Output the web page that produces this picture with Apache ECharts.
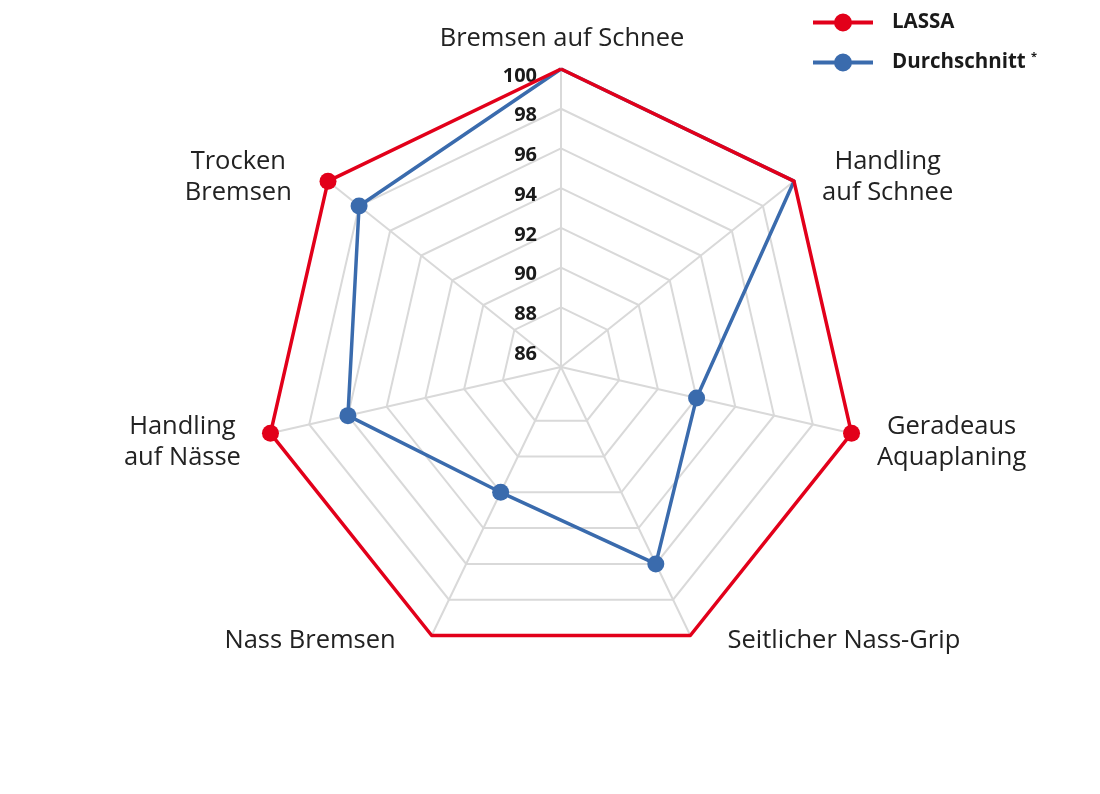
<!DOCTYPE html>
<html>
<head>
    <meta charset="utf-8">
    <title>LASSA Radar</title>
    <style>
        body { margin: 0; background: #fff; }
        #main { width: 1100px; height: 794px; }
    </style>
</head>
<body>
    <div id="main"></div>
    <script src="https://cdn.jsdelivr.net/npm/echarts@6.0.0/dist/echarts.min.js"></script>
    <script type="text/javascript">

        // order follows echarts radar (counter-clockwise from top)
        const INDICATOR_NAMES = [
            'Bremsen auf Schnee', 'Trocken\nBremsen', 'Handling\nauf Nässe', 'Nass Bremsen',
            'Seitlicher Nass-Grip', 'Geradeaus\nAquaplaning', 'Handling\nauf Schnee'
        ];
        const SERIES_NAMES = ['LASSA', 'Durchschnitt'];
        const FOOTNOTE = '*';
        const LASSA = [100, 100, 100, 100, 100, 100, 100];
        const DURCHSCHNITT = [100, 98, 96, 92, 96, 92, 100];
        // which vertices carry a dot
        const LASSA_MARKERS = [false, true, true, false, false, true, false];
        const DURCHSCHNITT_MARKERS = [false, true, true, true, true, true, false];
        const AXIS_MIN = 85;
        const AXIS_MAX = 100;
        const TICK_LABELS = ['86', '88', '90', '92', '94', '96', '98', '100'];
        const RING_VALUES = [88, 90, 92, 94, 96, 98, 100];

        const RED = '#e2001a';
        const BLUE = '#3a6bad';
        const GRID = '#d9d9d9';
        const FONT = 'Open Sans';

        // name placement: [gap along the axis, extra horizontal shift] in px
        const NAME_LAYOUT = [[30, 1], [6, -85], [38, -51], [6, -119], [6, 151], [38, 63], [6, 89]];

        function xPadding(dx) {
            return [0, Math.max(0, -2 * dx), 0, Math.max(0, 2 * dx)];
        }

        const ringColors = [];
        for (let v = AXIS_MIN; v <= AXIS_MAX; v++) {
            ringColors.push(RING_VALUES.includes(v) ? GRID : 'rgba(0,0,0,0)');
        }

        function markerData(values, markers) {
            let out = [];
            for (let i = 0; i < values.length; i++) {
                if (markers[i]) {
                    out.push([values[i], i]);
                }
            }
            return out;
        }

        const ICON = 'path://M0,7H60V11H0Z M39,9A9,9 0 1 1 21,9A9,9 0 1 1 39,9Z';

        let myChart = echarts.init(document.getElementById('main'));

        const option = {
            backgroundColor: '#fff',
            color: [RED, BLUE],
            legend: {
                orient: 'vertical',
                left: 813,
                top: 12,
                padding: 0,
                itemWidth: 60,
                itemHeight: 18,
                itemGap: 18,
                data: [
                    {name: SERIES_NAMES[0], icon: ICON, itemStyle: {color: RED, borderWidth: 0}},
                    {name: SERIES_NAMES[1], icon: ICON, itemStyle: {color: BLUE, borderWidth: 0}}
                ],
                formatter: function (name) {
                    return name === SERIES_NAMES[1] ? name + ' {sup|' + FOOTNOTE + '}' : name;
                },
                textStyle: {
                    fontFamily: FONT,
                    fontWeight: 'bold',
                    fontSize: 20.5,
                    color: '#1a1a1a',
                    padding: [0, 0, 0, 14],
                    rich: {
                        sup: {fontFamily: FONT, fontWeight: 'bold', fontSize: 11, color: '#1a1a1a', padding: [0, 0, 12, 0]}
                    }
                }
            },
            radar: {
                center: [561, 367],
                radius: 298,
                startAngle: 90,
                shape: 'polygon',
                splitNumber: AXIS_MAX - AXIS_MIN,
                indicator: INDICATOR_NAMES.map(function (name, i) {
                    return {
                        name: name,
                        min: AXIS_MIN,
                        max: AXIS_MAX,
                        nameGap: NAME_LAYOUT[i][0],
                        nameMoveOverlap: false,
                        axisLabel: {show: i === 0},
                        nameTextStyle: {padding: xPadding(NAME_LAYOUT[i][1])}
                    };
                }),
                axisName: {
                    color: '#222',
                    fontFamily: FONT,
                    fontSize: 25.5,
                    lineHeight: 31,
                    align: 'center',
                    verticalAlign: 'middle'
                },
                axisLine: {lineStyle: {color: GRID, width: 2}},
                axisTick: {show: false},
                splitArea: {show: false},
                splitLine: {lineStyle: {color: ringColors, width: 2}},
                axisLabel: {
                    show: false,
                    margin: 24,
                    fontFamily: FONT,
                    fontWeight: 'bold',
                    fontSize: 20,
                    color: '#1a1a1a',
                    verticalAlign: 'top',
                    lineHeight: 14,
                    formatter: function (v) {
                        return TICK_LABELS.includes(String(v)) ? String(v) : '';
                    }
                }
            },
            polar: {
                center: [561, 367],
                radius: 298
            },
            angleAxis: {
                type: 'value',
                min: 0,
                max: INDICATOR_NAMES.length,
                startAngle: 90,
                clockwise: false,
                show: false
            },
            radiusAxis: {
                type: 'value',
                min: AXIS_MIN,
                max: AXIS_MAX,
                show: false
            },
            series: [
                {
                    name: SERIES_NAMES[1],
                    type: 'radar',
                    symbol: 'none',
                    lineStyle: {color: BLUE, width: 3.5},
                    itemStyle: {color: BLUE},
                    data: [{name: SERIES_NAMES[1], value: DURCHSCHNITT}]
                },
                {
                    name: SERIES_NAMES[0],
                    type: 'radar',
                    symbol: 'none',
                    lineStyle: {color: RED, width: 3.5},
                    itemStyle: {color: RED},
                    data: [{name: SERIES_NAMES[0], value: LASSA}]
                },
                {
                    name: SERIES_NAMES[1],
                    type: 'scatter',
                    coordinateSystem: 'polar',
                    symbolSize: 17,
                    itemStyle: {color: BLUE, opacity: 1},
                    data: markerData(DURCHSCHNITT, DURCHSCHNITT_MARKERS)
                },
                {
                    name: SERIES_NAMES[0],
                    type: 'scatter',
                    coordinateSystem: 'polar',
                    symbolSize: 17,
                    itemStyle: {color: RED, opacity: 1},
                    data: markerData(LASSA, LASSA_MARKERS)
                }
            ]
        };

        myChart.setOption(option);

    </script>
</body>
</html>
